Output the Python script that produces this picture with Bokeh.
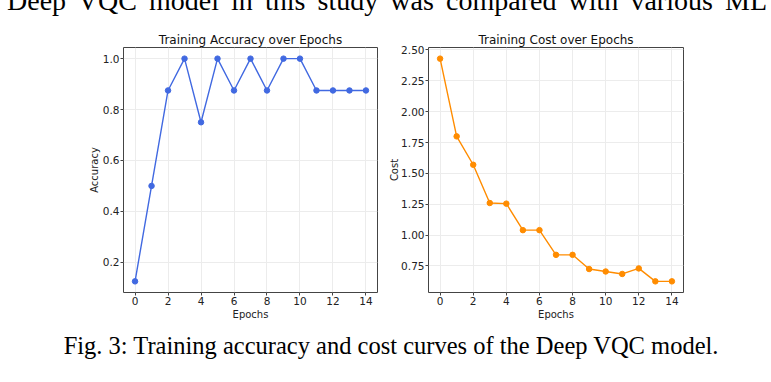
from bokeh.plotting import figure
from bokeh.layouts import column, row
from bokeh.models import FixedTicker, NumeralTickFormatter, Div, Label, Range1d
from bokeh.embed import file_html
from bokeh.resources import INLINE

# ---- data ----
epochs = list(range(15))
accuracy = [0.125, 0.5, 0.875, 1.0, 0.75, 1.0, 0.875, 1.0, 0.875, 1.0, 1.0, 0.875, 0.875, 0.875, 0.875]
cost = [2.43, 1.80, 1.57, 1.26, 1.255, 1.04, 1.04, 0.84, 0.84, 0.725, 0.705, 0.685, 0.73, 0.625, 0.625]
x_ticks = [0, 2, 4, 6, 8, 10, 12, 14]
acc_ticks = [0.2, 0.4, 0.6, 0.8, 1.0]
cost_ticks = [0.75, 1.0, 1.25, 1.5, 1.75, 2.0, 2.25, 2.5]
top_text = "Deep VQC model in this study was compared with various ML"
caption = "Fig. 3: Training accuracy and cost curves of the Deep VQC model."

FONT = "DejaVu Sans"


def pad(lo, hi, f=0.05):
    d = (hi - lo) * f
    return lo - d, hi + d


def style(p, yticks, yfmt, ylabel, ylab_standoff):
    p.title.align = "center"
    p.title.text_font = FONT
    p.title.text_font_size = "12px"
    p.title.text_font_style = "normal"
    p.title.text_color = "#111111"
    p.title.standoff = 2
    p.outline_line_color = "#444444"
    p.outline_line_width = 1
    p.outline_line_alpha = 1
    p.xaxis.ticker = FixedTicker(ticks=x_ticks)
    p.yaxis.ticker = FixedTicker(ticks=yticks)
    p.yaxis.formatter = NumeralTickFormatter(format=yfmt)
    p.xaxis.axis_label = "Epochs"
    p.yaxis.axis_label = ylabel
    for ax in (p.xaxis, p.yaxis):
        ax.axis_line_color = None
        ax.major_tick_line_color = "#444444"
        ax.major_tick_out = 3
        ax.major_tick_in = 0
        ax.minor_tick_line_color = None
        ax.major_label_standoff = 1
        ax.major_label_text_font = FONT
        ax.major_label_text_font_size = "10.5px"
        ax.major_label_text_color = "#222222"
        ax.axis_label_text_font = FONT
        ax.axis_label_text_font_size = "10px"
        ax.axis_label_text_font_style = "normal"
        ax.axis_label_text_color = "#222222"
    p.xaxis.axis_label_standoff = 1
    p.yaxis.axis_label_standoff = ylab_standoff
    p.grid.grid_line_color = "#ececec"
    p.grid.grid_line_width = 1
    p.background_fill_color = "white"
    p.border_fill_color = "white"


x_lo, x_hi = pad(min(epochs), max(epochs))
a_lo, a_hi = pad(min(accuracy), max(accuracy))
c_lo, c_hi = pad(min(cost), max(cost))

p1 = figure(width=382, height=308, title="Training Accuracy over Epochs",
            x_range=Range1d(x_lo, x_hi), y_range=Range1d(a_lo, a_hi),
            toolbar_location=None, output_backend="svg",
            min_border_left=123, min_border_right=5, min_border_top=31, min_border_bottom=32)
style(p1, acc_ticks, "0.0", "Accuracy", 0)
p1.line(epochs, accuracy, line_color="royalblue", line_width=1.4)
p1.scatter(epochs, accuracy, size=5.5, fill_color="royalblue", line_color="royalblue")

p2 = figure(width=361, height=308, title="Training Cost over Epochs",
            x_range=Range1d(x_lo, x_hi), y_range=Range1d(c_lo, c_hi),
            toolbar_location=None, output_backend="svg",
            min_border_left=46, min_border_right=60, min_border_top=31, min_border_bottom=32)
style(p2, cost_ticks, "0.00", "Cost", -2)
p2.line(epochs, cost, line_color="darkorange", line_width=1.4)
p2.scatter(epochs, cost, size=5.5, fill_color="darkorange", line_color="darkorange")

p3 = figure(width=760, height=50, x_range=Range1d(0, 1), y_range=Range1d(0, 1),
            toolbar_location=None, output_backend="svg", min_border=0,
            x_axis_location=None, y_axis_location=None)
p3.grid.visible = False
p3.outline_line_color = None
p3.title.visible = False
p3.add_layout(Label(x=391, y=29, x_units="screen", y_units="screen", text=caption,
                    text_align="center", text_baseline="alphabetic",
                    text_font="Liberation Serif", text_font_size="24.5px", text_color="black"))

top = Div(text=('<div style="width:760px;font-family:\'Liberation Serif\';font-size:28px;line-height:31px;'
                'text-align:justify;text-align-last:justify;color:black;white-space:normal;">'
                + top_text + '</div>'),
          width=760, height=31, margin=(-15, 0, 0, 7))

layout = column(top, row(p1, p2), p3)

open("out.html", "w").write(file_html(layout, INLINE))
